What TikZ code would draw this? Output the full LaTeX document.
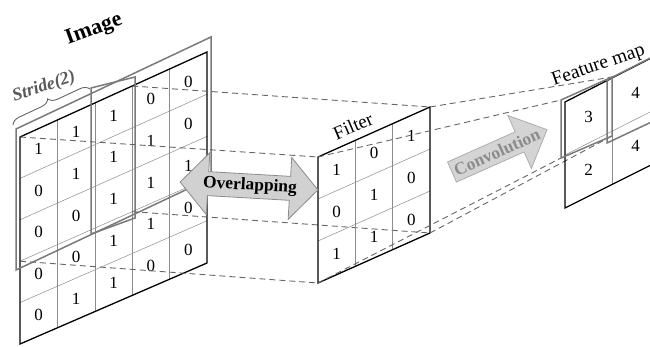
\documentclass[tikz,border=0pt]{standalone}
\usepackage{fontspec}
\setmainfont{Liberation Serif}
\usetikzlibrary{calc,decorations.pathreplacing}

\begin{document}
\begin{tikzpicture}[x=1pt,y=-1pt,
  frame/.style={draw=black,line width=1.3pt,line join=miter},
  cellline/.style={draw=black!45,line width=0.5pt},
  window/.style={draw=black!52,line width=1.5pt},
  guide/.style={draw=black!60,line width=0.9pt,dash pattern=on 6pt off 4pt},
  digit/.style={inner sep=0pt,font=\fontsize{17}{17}\selectfont},
  bigarrow/.style={fill=black!18,draw=black!45,line width=0.8pt,line join=miter},
  convarrow/.style={fill=black!17,draw=black!32,line width=0.8pt,line join=miter},
]
\useasboundingbox (0,0) rectangle (650,347);
\clip (0,0) rectangle (650,347);

% corners of the input image
\coordinate (iTL) at (20,137);
\coordinate (iTR) at (207,52);
\coordinate (iBR) at (207,263);
\coordinate (iBL) at (20,344);
% corners of the filter
\coordinate (fTL) at (318,157);
\coordinate (fTR) at (430,107);
\coordinate (fBR) at (430,233);
\coordinate (fBL) at (318,283);
% corners of the feature map
\coordinate (mTL) at (565,102);
\coordinate (mTR) at (659,54);
\coordinate (mBR) at (659,161);
\coordinate (mBL) at (565,208);

% ---------- input image ----------
\foreach \k in {1,...,4} {
  \draw[cellline] ($(iTL)!\k/5!(iTR)$) -- ($(iBL)!\k/5!(iBR)$);
  \draw[cellline] ($(iTL)!\k/5!(iBL)$) -- ($(iTR)!\k/5!(iBR)$);
}
\draw[frame] (iTL) -- (iTR) -- (iBR) -- (iBL) -- cycle;
\foreach \row [count=\r] in {{1,1,1,0,0},{0,1,1,1,0},{0,0,1,1,1},{0,0,1,1,0},{0,1,1,0,0}} {
  \foreach \val [count=\c] in \row {
    \pgfmathsetmacro\uu{(\c-0.5)/5}
    \pgfmathsetmacro\vv{(\r-0.5)/5}
    \coordinate (t) at ($(iTL)!\uu!(iTR)$);
    \coordinate (b) at ($(iBL)!\uu!(iBR)$);
    \node[digit] (i\r\c) at ($(t)!\vv!(b)$) {\val};
  }
}
% receptive windows (stride 2) and their overlap column
\draw[window] (16,129) -- (211,37) -- (211,178) -- (16,270) -- cycle;
\draw[window] (91,88) -- (135,77) -- (135,218) -- (91,234) -- cycle;

% ---------- guides from the first window to the filter ----------
\coordinate (wTR) at ($(iTL)!0.6!(iTR)$);
\coordinate (wBL) at ($(iTL)!0.6!(iBL)$);
\coordinate (wB)  at ($(iBL)!0.6!(iBR)$);
\coordinate (wBR) at ($(wTR)!0.6!(wB)$);
\draw[guide] (iTL) -- (fTL);
\draw[guide] (wTR) -- (fTR);
\draw[guide] (wBL) -- (fBL);
\draw[guide] (wBR) -- (fBR);

% ---------- filter ----------
\foreach \k in {1,2} {
  \draw[cellline] ($(fTL)!\k/3!(fTR)$) -- ($(fBL)!\k/3!(fBR)$);
  \draw[cellline] ($(fTL)!\k/3!(fBL)$) -- ($(fTR)!\k/3!(fBR)$);
}
\draw[frame] (fTL) -- (fTR) -- (fBR) -- (fBL) -- cycle;
\foreach \row [count=\r] in {{1,0,1},{0,1,0},{1,1,0}} {
  \foreach \val [count=\c] in \row {
    \pgfmathsetmacro\uu{(\c-0.5)/3}
    \pgfmathsetmacro\vv{(\r-0.5)/3}
    \coordinate (t) at ($(fTL)!\uu!(fTR)$);
    \coordinate (b) at ($(fBL)!\uu!(fBR)$);
    \node[digit] (f\r\c) at ($(t)!\vv!(b)$) {\val};
  }
}

% ---------- guides from the filter to the feature map ----------
\coordinate (gTL) at (561,100);
\coordinate (gTR) at (612,77);
\coordinate (gBR) at (612,136);
\coordinate (gBL) at (561,158);
\draw[guide] (fTL) -- (gTL);
\draw[guide] (fTR) -- (gTR);
\draw[guide] (fBL) -- (gBL);
\draw[guide] (fBR) -- (gBR);

% ---------- feature map ----------
\draw[cellline] ($(mTL)!0.5!(mTR)$) -- ($(mBL)!0.5!(mBR)$);
\draw[cellline] ($(mTL)!0.5!(mBL)$) -- ($(mTR)!0.5!(mBR)$);
\draw[frame] (mTL) -- (mTR) -- (mBR) -- (mBL) -- cycle;
\foreach \row [count=\r] in {{3,4},{2,4}} {
  \foreach \val [count=\c] in \row {
    \pgfmathsetmacro\uu{(\c-0.5)/2}
    \pgfmathsetmacro\vv{(\r-0.5)/2}
    \coordinate (t) at ($(mTL)!\uu!(mTR)$);
    \coordinate (b) at ($(mBL)!\uu!(mBR)$);
    \node[digit] (m\r\c) at ($(t)!\vv!(b)$) {\val};
  }
}
\draw[window] (gTL) -- (gTR) -- (gBR) -- (gBL) -- cycle;
\draw[window] (607,80) -- (662,52) -- (662,117) -- (607,143) -- cycle;

% ---------- double arrow: overlapping ----------
\begin{scope}[shift={(249,186)},rotate=-3.3]
  \draw[bigarrow] (-69,0) -- (-41,-31) -- (-41,-12) -- (41,-12) -- (41,-31)
    -- (69,0) -- (41,31) -- (41,12) -- (-41,12) -- (-41,31) -- cycle;
\end{scope}
\node[inner sep=0pt,rotate=-3.3,font=\fontsize{17.4}{17.4}\selectfont\bfseries]
  (overlap) at (250,186) {Overlapping};

% ---------- arrow: convolution ----------
\begin{scope}[shift={(452,172)},rotate=24]
  \draw[convarrow] (0,-11) -- (74,-11) -- (74,-29) -- (104,0) -- (74,29)
    -- (74,11) -- (0,11) -- cycle;
\end{scope}
\node[inner sep=0pt,rotate=24,text=black!45,font=\fontsize{17.5}{17.5}\selectfont\bfseries]
  (conv) at (497,152) {Convolution};

% ---------- titles ----------
\node[inner sep=0pt,rotate=20,font=\fontsize{22}{22}\selectfont\bfseries]
  (imgtitle) at (94,30) {Image};
\node[inner sep=0pt,rotate=18,text=black!65,font=\fontsize{18}{18}\selectfont\bfseries\itshape]
  (stride) at (44,87) {Stride(2)};
\draw[black!60,line width=0.9pt,decorate,decoration={brace,amplitude=9pt}]
  (13,125) -- (90,89);
\node[inner sep=0pt,rotate=23,font=\fontsize{19}{19}\selectfont]
  (filtertitle) at (353,126) {Filter};
\node[inner sep=0pt,anchor=base west,rotate=19,font=\fontsize{19.5}{19.5}\selectfont]
  (maptitle) at (554,86) {Feature map};
\end{tikzpicture}
\end{document}
